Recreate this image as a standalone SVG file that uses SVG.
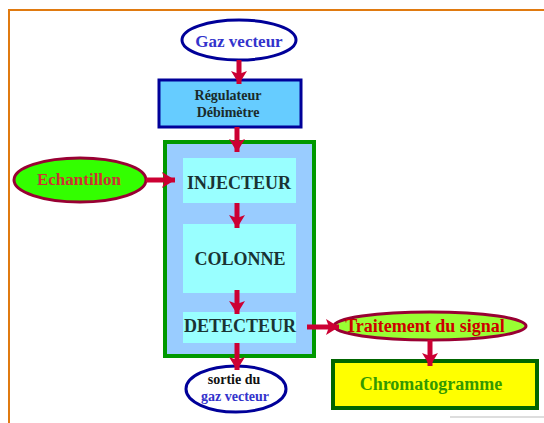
<svg xmlns="http://www.w3.org/2000/svg" width="544" height="423" viewBox="0 0 544 423">
<defs>
<marker id="ah" markerWidth="18" markerHeight="18" refX="13" refY="8" orient="auto" markerUnits="userSpaceOnUse">
<path d="M0,0 L13,8 L0,16 L3,8 Z" fill="#CC0033"/>
</marker>
<style>
text{font-family:"Liberation Serif","Times New Roman",serif;font-weight:bold;text-anchor:middle;dominant-baseline:central}
.c{stroke:#CC0033;stroke-width:5;fill:none;marker-end:url(#ah)}
.inner{fill:#99FFFF}
.t{font-size:18px;fill:#1a3333}
</style>
</defs>
<rect width="544" height="423" fill="#fff"/>
<path d="M9,423 V10 H544" fill="none" stroke="#E07A10" stroke-width="2"/>
<g id="gaz">
<ellipse cx="239" cy="40" rx="57" ry="20" fill="#fff" stroke="#000099" stroke-width="3"/>
<text x="239" y="41" font-size="17" fill="#3333CC">Gaz vecteur</text>
</g>
<g id="regulateur">
<rect x="159" y="80" width="142" height="47" fill="#66CCFF" stroke="#000099" stroke-width="3"/>
<text x="228" y="95" font-size="14" fill="#1a2a2a">Régulateur</text>
<text x="228" y="112" font-size="14" fill="#1a2a2a">Débimètre</text>
</g>
<g id="chromatographe">
<rect x="165" y="142" width="149" height="214" fill="#99CCFF" stroke="#009900" stroke-width="4"/>
</g>
<g id="injecteur">
<rect class="inner" x="183" y="158" width="113" height="45"/>
<text class="t" x="239" y="183">INJECTEUR</text>
</g>
<g id="colonne">
<rect class="inner" x="183" y="224" width="113" height="69"/>
<text class="t" x="240" y="259">COLONNE</text>
</g>
<g id="detecteur">
<rect class="inner" x="183" y="312" width="113" height="31"/>
<text class="t" x="240" y="326">DETECTEUR</text>
</g>
<g id="echantillon">
<ellipse cx="80" cy="180" rx="66" ry="22" fill="#33FF00" stroke="#990033" stroke-width="3"/>
<text x="79" y="179" font-size="17" fill="#CC3333">Echantillon</text>
</g>
<g id="sortie">
<ellipse cx="236" cy="389" rx="50" ry="23" fill="#fff" stroke="#000099" stroke-width="3"/>
<text x="234" y="379" font-size="14" fill="#111">sortie du</text>
<text x="235" y="396" font-size="14" fill="#3333CC">gaz vecteur</text>
</g>
<g id="traitement">
<ellipse cx="430" cy="326" rx="96" ry="14" fill="#99FF33" stroke="#990033" stroke-width="3"/>
<text x="425" y="326" font-size="18" fill="#CC0000">Traitement du signal</text>
</g>
<g id="chromatogramme">
<rect x="333" y="361" width="204" height="47" fill="#FFFF00" stroke="#006600" stroke-width="4"/>
<text x="431" y="384" font-size="18" fill="#339900">Chromatogramme</text>
</g>
<g id="connectors">
<line class="c" x1="239" y1="60" x2="239" y2="84"/>
<line class="c" x1="237" y1="127" x2="237" y2="152"/>
<line class="c" x1="146" y1="180" x2="175" y2="180"/>
<line class="c" x1="237" y1="203" x2="237" y2="228"/>
<line class="c" x1="237" y1="290" x2="237" y2="314"/>
<line class="c" x1="237" y1="343" x2="237" y2="370"/>
<line class="c" x1="307" y1="327" x2="339" y2="327"/>
<line class="c" x1="430" y1="340" x2="430" y2="366"/>
</g>
<line x1="450" y1="417" x2="544" y2="417" stroke="#bbb" stroke-width="1"/>
</svg>
